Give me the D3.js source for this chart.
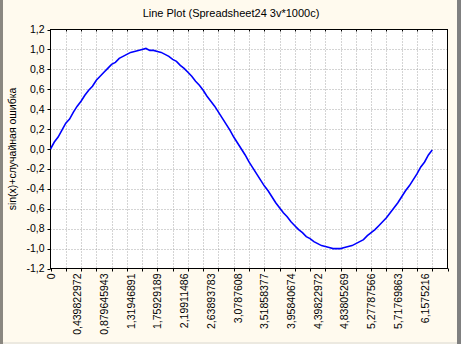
<!DOCTYPE html>
<html><head><meta charset="utf-8">
<script src="https://cdn.jsdelivr.net/npm/d3@7"></script>
<style>
html,body{margin:0;padding:0;background:#fffaee;}
svg{display:block;}
text{font-family:"Liberation Sans",Arial,sans-serif;fill:#000;}
</style></head>
<body><svg id="c" width="461" height="344"></svg>
<script>
// ---- data ----
const title = "Line Plot (Spreadsheet24 3v*1000c)";
const yLabel = "sin(x)+случайная ошибка";
const caseStep = 10;            // sampled every 10 cases
const values = [0.00,0.07,0.12,0.19,0.26,0.30,0.37,0.43,0.48,0.54,0.59,0.63,0.69,0.73,0.77,0.81,0.85,0.87,0.91,0.93,
0.95,0.97,0.98,0.99,1.00,1.01,0.99,0.99,0.98,0.97,0.95,0.93,0.90,0.88,0.84,0.81,0.77,0.73,0.68,0.64,
0.59,0.53,0.48,0.43,0.37,0.31,0.25,0.19,0.12,0.06,0.00,-0.06,-0.13,-0.19,-0.25,-0.31,-0.37,-0.42,-0.48,-0.54,
-0.59,-0.64,-0.68,-0.73,-0.77,-0.81,-0.84,-0.88,-0.90,-0.93,-0.95,-0.97,-0.98,-0.99,-1.00,-1.00,-1.00,-0.99,-0.98,-0.97,
-0.95,-0.93,-0.91,-0.87,-0.84,-0.81,-0.77,-0.73,-0.69,-0.64,-0.59,-0.54,-0.48,-0.42,-0.37,-0.31,-0.25,-0.18,-0.13,-0.06,-0.01];
const xTickCases = [0,70,140,210,280,350,420,490,560,630,700,770,840,910,980];
const xTickLabels = ["0","0,439822972","0,879645943","1,31946891","1,75929189","2,19911486","2,63893783","3,0787608","3,51858377","3,95840674","4,39822972","4,83805269","5,27787566","5,71769863","6,1575216"];
const yTicks = [-1.2,-1.0,-0.8,-0.6,-0.4,-0.2,0.0,0.2,0.4,0.6,0.8,1.0,1.2];
const xDomain = [0,1040];
const xGridStep = 40;

// ---- layout ----
const svg = d3.select("#c");
const L=50.5, R=447.5, T=29.5, B=268.5;
const x = d3.scaleLinear().domain(xDomain).range([L,R]);
const y = d3.scaleLinear().domain([-1.2,1.2]).range([B,T]);

// window frame
svg.append("rect").attr("x",0).attr("y",0).attr("width",461).attr("height",344).attr("fill","#fffaee");
svg.append("rect").attr("x",0).attr("y",0).attr("width",3).attr("height",344).attr("fill","#8a8780");
svg.append("rect").attr("x",457).attr("y",0).attr("width",4).attr("height",344).attr("fill","#808080");
svg.append("rect").attr("x",3).attr("y",342).attr("width",454).attr("height",2).attr("fill","#ece9e0");

// plot background
svg.append("rect").attr("x",L).attr("y",T).attr("width",R-L).attr("height",B-T).attr("fill","#fff");

// grid
const gx = d3.range(xDomain[0]+xGridStep, xDomain[1], xGridStep);
svg.append("g").selectAll("line").data(gx).join("line")
  .attr("x1",d=>Math.round(x(d))+0.5).attr("x2",d=>Math.round(x(d))+0.5)
  .attr("y1",T).attr("y2",B).attr("stroke","#a8a8a8").attr("stroke-dasharray","1,2");
svg.append("g").selectAll("line").data(yTicks.slice(1,-1)).join("line")
  .attr("y1",d=>Math.round(y(d))+0.5).attr("y2",d=>Math.round(y(d))+0.5)
  .attr("x1",L).attr("x2",R).attr("stroke","#a8a8a8").attr("stroke-dasharray","1,2");

// ticks
svg.append("g").selectAll("line").data(d3.range(xDomain[0], xDomain[1]+1, xGridStep)).join("line")
  .attr("x1",d=>Math.round(x(d))+0.5).attr("x2",d=>Math.round(x(d))+0.5)
  .attr("y1",B).attr("y2",B+3).attr("stroke","#000");
svg.append("g").selectAll("line").data(gx).join("line")
  .attr("x1",d=>Math.round(x(d))+0.5).attr("x2",d=>Math.round(x(d))+0.5)
  .attr("y1",T).attr("y2",T+2).attr("stroke","#000");
svg.append("g").selectAll("line").data(yTicks).join("line")
  .attr("y1",d=>Math.round(y(d))+0.5).attr("y2",d=>Math.round(y(d))+0.5)
  .attr("x1",L-3).attr("x2",L).attr("stroke","#000");

// frame
svg.append("rect").attr("x",L).attr("y",T).attr("width",R-L).attr("height",B-T)
  .attr("fill","none").attr("stroke","#000").attr("stroke-width",1);

// line
const line = d3.line().x((d,i)=>x(i*caseStep)).y(d=>y(d));
svg.append("path").datum(values).attr("d",line).attr("fill","none")
  .attr("stroke","#0000ff").attr("stroke-width",1.6);

// y tick labels
svg.append("g").selectAll("text").data(yTicks).join("text")
  .attr("x",L-6).attr("y",d=>y(d)+3.5).attr("text-anchor","end").attr("font-size",10.5)
  .text(d=>d3.format(".1f")(d).replace(".",",").replace("−","-"));

// x tick labels
svg.append("g").selectAll("text").data(xTickCases).join("text")
  .attr("transform",(d,i)=>`translate(${x(d)+4},${B+5}) rotate(-90)`)
  .attr("text-anchor","end").attr("font-size",10.5)
  .text((d,i)=>xTickLabels[i]);

// title
svg.append("text").attr("x",231).attr("y",17).attr("text-anchor","middle").attr("font-size",11).text(title);
// y label
svg.append("text").attr("transform",`translate(16,${(T+B)/2}) rotate(-90)`).attr("text-anchor","middle")
  .attr("font-size",10.5).text(yLabel);
</script></body></html>
